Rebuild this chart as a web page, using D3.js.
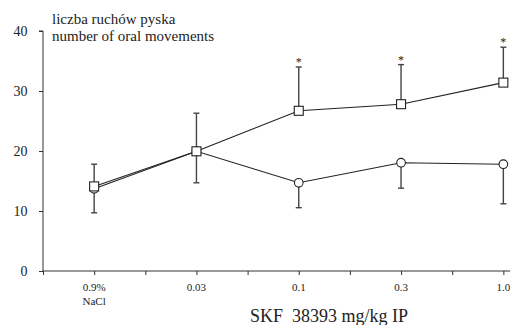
<!DOCTYPE html>
<html>
<head>
<meta charset="utf-8">
<script src="https://cdn.jsdelivr.net/npm/d3@7"></script>
<style>
  body { margin: 0; background: #fff; }
  svg text { font-family: "Liberation Serif", "Times New Roman", "DejaVu Serif", serif; fill: #222; }
</style>
</head>
<body>
<svg id="chart" width="510" height="325"></svg>
<script>
// doses on the x axis
var categories = ["0.9%|NaCl", "0.03", "0.1", "0.3", "1.0"]
// SKF series (squares), mean and upper error
var skfMean = [14.1, 19.95, 26.7, 27.8, 31.4]
var skfErr = [17.8, 26.3, 34.0, 34.4, 37.3]
var skfStar = [false, false, true, true, true]
// control series (circles), mean and lower error
var ctrlMean = [13.7, 19.95, 14.7, 18.05, 17.8]
var ctrlErr = [9.7, 14.7, 10.55, 13.8, 11.2]
var yTicks = [0, 10, 20, 30, 40]

var svg = d3.select("#chart")

var x = d3.scaleLinear().domain([-0.5, 4.5]).range([43, 554.5])
var y = d3.scaleLinear().domain([0, 40]).range([271, 31])

// y axis
var yAxis = svg.append("g")
    .attr("transform", "translate(43,0)")
    .attr("font-family", null)
    .call(d3.axisLeft(y).tickValues(yTicks).tickSize(4).tickPadding(11.5))
yAxis.attr("font-family", null).attr("font-size", null)
yAxis.select(".domain").attr("d", "M-4," + y(40) + "H0V" + y(0))
yAxis.selectAll("text").style("font-size", "14px")
yAxis.selectAll("line, path").attr("stroke", "#333")

// x axis, ticks every half step
var halfTicks = d3.range(-0.5, 4.6, 0.5)
var xAxis = svg.append("g")
    .attr("transform", "translate(0,271)")
    .call(d3.axisBottom(x).tickValues(halfTicks).tickSize(4).tickFormat(""))
xAxis.select(".domain").attr("d", "M43,0H554.5")
xAxis.selectAll("line, path").attr("stroke", "#333")

// category labels
categories.forEach(function (c, i) {
    var parts = c.split("|")
    parts.forEach(function (p, j) {
        svg.append("text")
            .attr("x", x(i))
            .attr("y", 290.5 + j * 14)
            .attr("text-anchor", "middle")
            .style("font-size", "11px")
            .text(p)
    })
})

// labels
svg.append("text").attr("x", 52).attr("y", 23.5).style("font-size", "15px").text("liczba ruchów pyska")
svg.append("text").attr("x", 52).attr("y", 40.5).style("font-size", "15px").text("number of oral movements")
svg.append("text").attr("x", 250).attr("y", 321.5).style("font-size", "18px")
    .style("white-space", "pre").text("SKF  38393 mg/kg IP")

// error bars
function errBars(mean, err) {
    var g = svg.append("g").attr("stroke", "#444").attr("stroke-width", 1.4)
    g.selectAll("line.v").data(mean).enter().append("line")
        .attr("x1", function (d, i) { return x(i) })
        .attr("x2", function (d, i) { return x(i) })
        .attr("y1", function (d) { return y(d) })
        .attr("y2", function (d, i) { return y(err[i]) })
    g.selectAll("line.c").data(err).enter().append("line")
        .attr("x1", function (d, i) { return x(i) - 3 })
        .attr("x2", function (d, i) { return x(i) + 3 })
        .attr("y1", function (d) { return y(d) })
        .attr("y2", function (d) { return y(d) })
}
errBars(skfMean, skfErr)
errBars(ctrlMean, ctrlErr)

var line = d3.line()
    .x(function (d, i) { return x(i) })
    .y(function (d) { return y(d) })

svg.append("path").datum(ctrlMean).attr("d", line)
    .attr("fill", "none").attr("stroke", "#222").attr("stroke-width", 1.1)
svg.append("path").datum(skfMean).attr("d", line)
    .attr("fill", "none").attr("stroke", "#222").attr("stroke-width", 1.1)

svg.selectAll("circle.ctrl").data(ctrlMean).enter().append("circle")
    .attr("class", "ctrl")
    .attr("cx", function (d, i) { return x(i) })
    .attr("cy", function (d) { return y(d) })
    .attr("r", 4.3)
    .attr("fill", "#fff").attr("stroke", "#222").attr("stroke-width", 1.1)

svg.selectAll("rect.skf").data(skfMean).enter().append("rect")
    .attr("class", "skf")
    .attr("x", function (d, i) { return x(i) - 4.5 })
    .attr("y", function (d) { return y(d) - 4.5 })
    .attr("width", 9).attr("height", 9)
    .attr("fill", "#fff").attr("stroke", "#222").attr("stroke-width", 1.1)

// significance stars
svg.selectAll("text.star").data(skfErr).enter()
    .filter(function (d, i) { return skfStar[i] })
    .append("text")
    .attr("class", "star")
    .attr("x", function (d, i) { return x(skfErr.indexOf(d)) })
    .attr("y", function (d) { return y(d) - 1 })
    .attr("text-anchor", "middle")
    .style("font-size", "12px")
    .text("*")
</script>
</body>
</html>
